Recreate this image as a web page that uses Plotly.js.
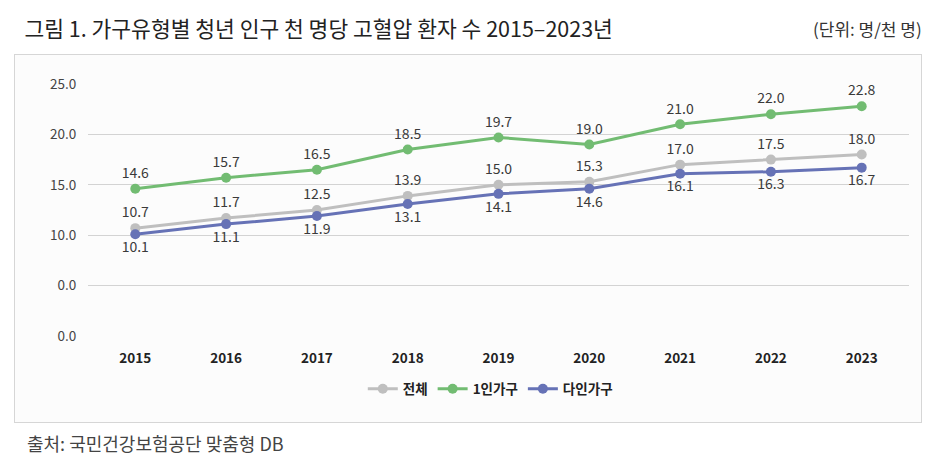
<!DOCTYPE html>
<html>
<head>
<meta charset="utf-8">
<script src="https://cdn.plot.ly/plotly-3.0.1.min.js"></script>
<style>
  html, body { margin: 0; padding: 0; background: #ffffff; }
  #wrap { position: relative; width: 941px; height: 473px; }
  #frame {
    position: absolute; left: 14px; top: 54px; width: 908px; height: 369px;
    border: 1px solid #d6d6d6; background: #fcfcfc; box-sizing: border-box;
  }
  #chart { position: absolute; left: 0; top: 0; width: 941px; height: 473px; }
</style>
</head>
<body>
<div id="wrap">
  <div id="frame"></div>
  <div id="chart"></div>
</div>
<script>
// Hypertension patients per 1,000 young adults, by household type
const years = ['2015', '2016', '2017', '2018', '2019', '2020', '2021', '2022', '2023'];
const total = [10.7, 11.7, 12.5, 13.9, 15.0, 15.3, 17.0, 17.5, 18.0];
const singleHousehold = [14.6, 15.7, 16.5, 18.5, 19.7, 19.0, 21.0, 22.0, 22.8];
const multiHousehold = [10.1, 11.1, 11.9, 13.1, 14.1, 14.6, 16.1, 16.3, 16.7];
const seriesNames = ['전체', '1인가구', '다인가구'];
const yTickVals = [0, 5, 10, 15, 20, 25];
const yTickText = ['0.0', '0.0', '10.0', '15.0', '20.0', '25.0'];

const FONT = '"Noto Sans CJK KR", "Noto Sans", sans-serif';

function series(name, values, color, pos) {
  return {
    type: 'scatter',
    mode: 'lines+markers+text',
    name: name,
    x: years,
    y: values,
    text: values.map(v => v.toFixed(1)),
    textposition: pos,
    textfont: { family: FONT, size: 14, color: '#3a3a3a' },
    line: { color: color, width: 3 },
    marker: { color: color, size: 10 },
    cliponaxis: false,
    hoverinfo: 'x+y'
  };
}

const data = [
  series(seriesNames[0], total, '#bfbfbf', 'top center'),
  series(seriesNames[1], singleHousehold, '#72bc72', 'top center'),
  series(seriesNames[2], multiHousehold, '#6672b6', 'bottom center')
];

const layout = {
  width: 941,
  height: 473,
  margin: { l: 88, r: 32, t: 84, b: 137 },
  paper_bgcolor: 'rgba(0,0,0,0)',
  plot_bgcolor: 'rgba(0,0,0,0)',
  font: { family: FONT, color: '#333333' },
  title: {
    text: '그림 1. 가구유형별 청년 인구 천 명당 고혈압 환자 수 2015–2023년',
    font: { family: FONT, size: 21.5, color: '#222222' },
    x: 0.026, xanchor: 'left', xref: 'container',
    y: 0.937, yanchor: 'middle', yref: 'container'
  },
  xaxis: {
    type: 'category',
    showgrid: false,
    zeroline: false,
    showline: false,
    ticks: 'outside',
    ticklen: 10,
    tickcolor: 'rgba(0,0,0,0)',
    tickfont: { family: FONT, size: 13.5, color: '#222222', weight: 'bold' },
    fixedrange: true
  },
  yaxis: {
    range: [0, 25],
    tickvals: yTickVals,
    ticktext: yTickText,
    showgrid: true,
    gridcolor: '#d3d3d3',
    gridwidth: 1,
    zeroline: false,
    showline: false,
    ticks: 'outside',
    ticklen: 8,
    tickcolor: 'rgba(0,0,0,0)',
    tickfont: { family: FONT, size: 13.5, color: '#444444' },
    fixedrange: true
  },
  showlegend: true,
  legend: {
    orientation: 'h',
    x: 0.49, xanchor: 'center',
    y: -0.21, yanchor: 'middle',
    font: { family: FONT, size: 13.5, color: '#222222', weight: 'bold' },
    itemwidth: 30,
    traceorder: 'normal',
    bgcolor: 'rgba(0,0,0,0)'
  },
  annotations: [
    {
      text: '(단위: 명/천 명)',
      xref: 'paper', yref: 'paper',
      x: 1.018, xanchor: 'right',
      y: 1.22, yanchor: 'middle',
      showarrow: false,
      font: { family: FONT, size: 17, color: '#333333' }
    },
    {
      text: '출처: 국민건강보험공단 맞춤형 DB',
      xref: 'paper', yref: 'paper',
      x: -0.077, xanchor: 'left',
      y: -0.425, yanchor: 'middle',
      showarrow: false,
      font: { family: FONT, size: 18, color: '#444444' }
    }
  ]
};

Plotly.newPlot('chart', data, layout, { displayModeBar: false, staticPlot: true });
</script>
</body>
</html>
